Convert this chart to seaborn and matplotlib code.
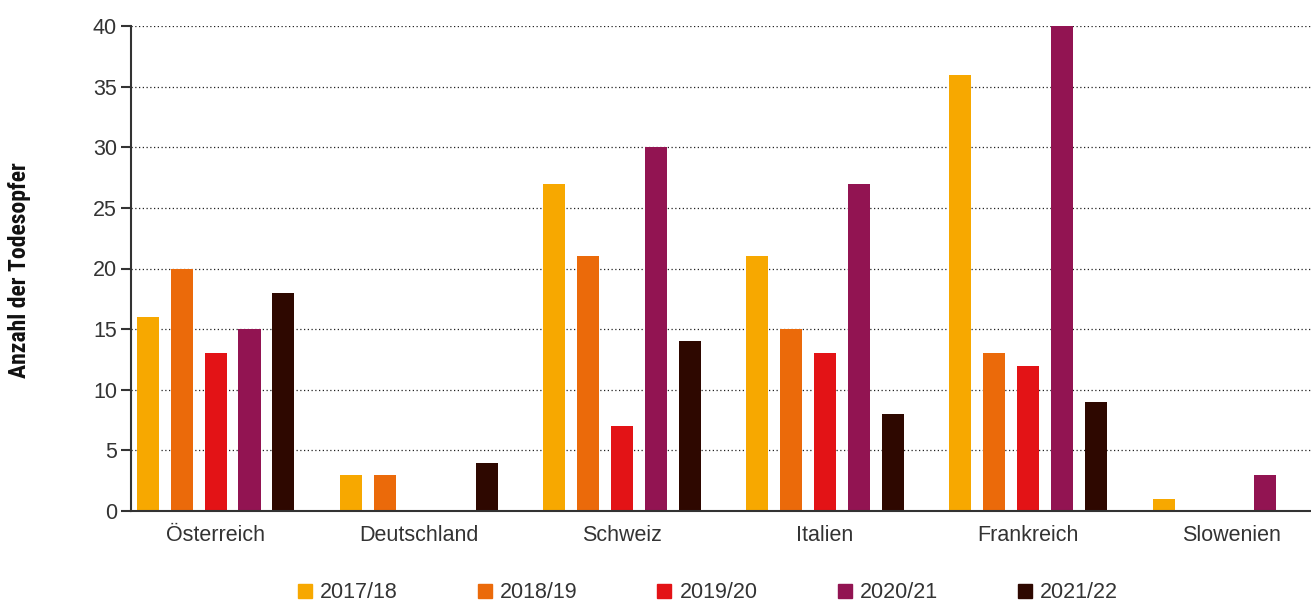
import pandas as pd
import matplotlib.pyplot as plt
import seaborn as sns
from matplotlib.lines import Line2D

laender = ['Österreich', 'Deutschland', 'Schweiz', 'Italien', 'Frankreich', 'Slowenien']
saisons = ['2017/18', '2018/19', '2019/20', '2020/21', '2021/22']

# Todesopfer je Saison (Reihenfolge wie laender)
werte_2017_18 = [16, 3, 27, 21, 36, 1]
werte_2018_19 = [20, 3, 21, 15, 13, 0]
werte_2019_20 = [13, 0, 7, 13, 12, 0]
werte_2020_21 = [15, 0, 30, 27, 40, 3]
werte_2021_22 = [18, 4, 14, 8, 9, 0]

farben = ['#F7A800', '#EB6A0A', '#E31316', '#921452', '#2E0800']

def build_df():
    rows = []
    for saison, werte in zip(saisons, [werte_2017_18, werte_2018_19, werte_2019_20,
                                       werte_2020_21, werte_2021_22]):
        for land, w in zip(laender, werte):
            rows.append({'Land': land, 'Saison': saison, 'Anzahl': w})
    return pd.DataFrame(rows)

df = build_df()

sns.set_style('white')
plt.rcParams['font.family'] = ['Liberation Sans', 'DejaVu Sans']
text_col = '#333333'

fig = plt.figure(figsize=(13.11, 6.03), dpi=100)
ax = fig.add_axes([131 / 1311, 92 / 603, 1180 / 1311, 485 / 603])

sns.barplot(data=df, x='Land', y='Anzahl', hue='Saison', order=laender,
            hue_order=saisons, palette=farben, width=0.835, gap=0.35,
            saturation=1, legend=False, linewidth=0, ax=ax)

ax.set_xlim(-0.5 + 17 / 203, 5.5 - 22 / 203)
ax.set_ylim(0, 40)
ax.set_yticks(range(0, 41, 5))
ax.set_xlabel('')
ax.set_ylabel('')

# group separators as minor ticks
ax.set_xticks([ax.get_xlim()[0]] + [i + 0.5 for i in range(5)], minor=True)
ax.tick_params(axis='x', which='major', length=0, pad=10, labelsize=15.5, labelcolor=text_col)
ax.tick_params(axis='x', which='minor', length=8, width=1.5, color=text_col, direction='out')
ax.tick_params(axis='y', length=7, width=1.5, color=text_col, labelsize=15.5,
               labelcolor=text_col, pad=3, left=True)

ax.yaxis.grid(True, linestyle=(0, (1, 2)), color='#222222', linewidth=0.9)
ax.set_axisbelow(True)
for s in ['top', 'right']:
    ax.spines[s].set_visible(False)
for s in ['left', 'bottom']:
    ax.spines[s].set_color(text_col)
    ax.spines[s].set_linewidth(1.5)

fig.text(20 / 1311, 1 - 270 / 603, 'Anzahl der Todesopfer', rotation=90,
         ha='center', va='center', fontsize=17, fontweight='bold', fontstretch='condensed',
         family=['Liberation Sans Narrow', 'Roboto Condensed', 'DejaVu Sans'], color='#111111')

handles = [Line2D([], [], marker='s', linestyle='', markersize=10.5, color=c) for c in farben]
fig.legend(handles, saisons, loc='center', bbox_to_anchor=(706 / 1311, 1 - 593 / 603),
           ncol=5, frameon=False, fontsize=15.5, columnspacing=3.55, handletextpad=0.2,
           labelcolor=text_col, handlelength=1.0)

fig.savefig('out.png', dpi=100)
